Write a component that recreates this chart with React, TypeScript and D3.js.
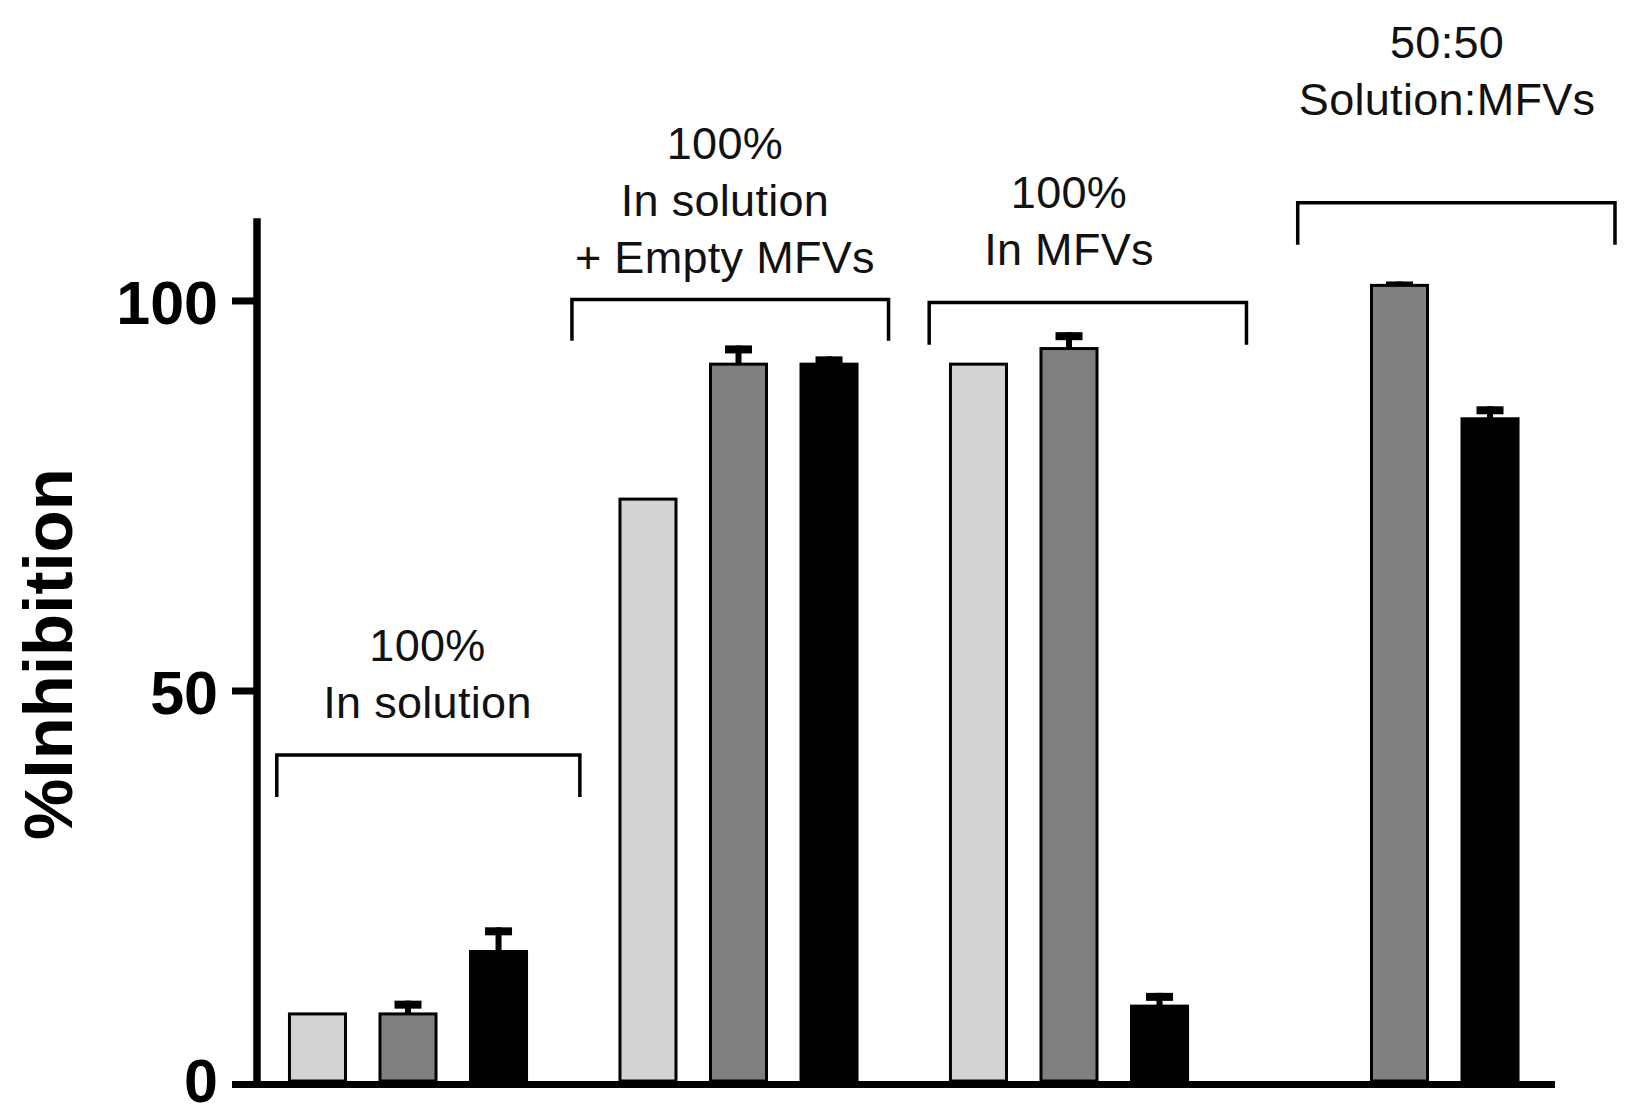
import React from 'react';
import * as d3 from 'd3';

// groups along the x axis
const groups = ['solution', 'solutionEmpty', 'mfvs', 'mixed'];
const series = ['light', 'gray', 'black'];

// %Inhibition per series (null = no bar)
const lightValues: (number | null)[] = [8.6, 74.6, 91.9, null];
const grayValues: (number | null)[] = [8.6, 91.9, 93.9, 102.0];
const blackValues: (number | null)[] = [16.6, 91.9, 9.6, 84.9];

// upper error (SEM) per series
const lightErrors = [0, 0, 0, 0];
const grayErrors = [1.7, 2.4, 2.1, 0.5];
const blackErrors = [3.1, 1.0, 1.7, 1.6];

const yTicks = [0, 50, 100];

// bracket annotations: extents in group units, heights in %Inhibition units
const bracketStart = [0.103, 0.996, 2.077, 3.192];
const bracketEnd = [1.02, 1.954, 3.037, 4.152];
const bracketTop = [41.8, 100.2, 99.8, 112.6];
const bracketFoot = [36.4, 94.9, 94.4, 107.2];

// label text per group, centre in group units, last baseline in %Inhibition units
const labelLines = [
    ['100%', 'In solution'],
    ['100%', 'In solution', '+ Empty MFVs'],
    ['100%', 'In MFVs'],
    ['50:50', 'Solution:MFVs'],
];
const labelCenter = [0.559, 1.459, 2.5, 3.644];
const labelBase = [46.5, 103.6, 104.6, 123.9];

const W = 1632;
const H = 1115;
const FONT = '"Liberation Sans", Arial, Helvetica, sans-serif';

const fills: Record<string, string> = {
    light: '#d3d3d3',
    gray: '#808080',
    black: '#000000',
};

const App: React.FC = () => {
    const x0 = 242.75;
    const x1 = 1564.75;
    const axisX = 257;

    const y = d3.scaleLinear().domain([0, 110.6]).range([1081, 218.3]);

    const xGroup = d3.scaleBand<string>().domain(groups).range([x0, x1]).padding(0);
    const xSeries = d3
        .scaleBand<string>()
        .domain(series)
        .range([0, xGroup.bandwidth()])
        .paddingInner(0.381)
        .paddingOuter(0.516);
    const gx = d3.scaleLinear().domain([0, groups.length]).range([x0, x1]);

    const valuesBySeries: Record<string, (number | null)[]> = {
        light: lightValues,
        gray: grayValues,
        black: blackValues,
    };
    const errorsBySeries: Record<string, number[]> = {
        light: lightErrors,
        gray: grayErrors,
        black: blackErrors,
    };

    const bars = groups.flatMap((g, gi) =>
        series.map((s) => ({
            g,
            s,
            value: valuesBySeries[s][gi],
            err: errorsBySeries[s][gi],
        })),
    );

    const bw = xSeries.bandwidth();
    const lineGap = 57;

    return (
        <div style={{ position: 'absolute', left: 0, top: 0 }}>
            <svg width={W} height={H} viewBox={`0 0 ${W} ${H}`} style={{ display: 'block', background: '#fff' }}>
                {/* error bars (behind bars) */}
                {bars
                    .filter((d) => d.value !== null && d.err > 0)
                    .map((d, i) => {
                        const cx = (xGroup(d.g) ?? 0) + (xSeries(d.s) ?? 0) + bw / 2;
                        const top = y((d.value as number) + d.err);
                        return (
                            <g key={`e${i}`}>
                                <rect x={cx - 3} y={top} width={6} height={y(d.value as number) - top + 2} fill="#000" />
                                <rect x={cx - 13.5} y={top} width={27} height={8} fill="#000" />
                            </g>
                        );
                    })}

                {/* bars */}
                {bars
                    .filter((d) => d.value !== null)
                    .map((d, i) => (
                        <rect
                            key={`b${i}`}
                            x={(xGroup(d.g) ?? 0) + (xSeries(d.s) ?? 0)}
                            y={y(d.value as number)}
                            width={bw}
                            height={y(0) - y(d.value as number)}
                            fill={fills[d.s]}
                            stroke="#000"
                            strokeWidth={3}
                        />
                    ))}

                {/* y axis */}
                <line x1={axisX} x2={axisX} y1={y.range()[1]} y2={y(0) + 7} stroke="#000" strokeWidth={7.5} />
                {yTicks.map((t) => (
                    <g key={t}>
                        <line x1={232} x2={axisX} y1={y(t) + (t === 0 ? 3.5 : 0)} y2={y(t) + (t === 0 ? 3.5 : 0)} stroke="#000" strokeWidth={7} />
                        <text
                            x={218}
                            y={y(t)}
                            dy={t === 0 ? '0.34em' : '0.38em'}
                            textAnchor="end"
                            fontFamily={FONT}
                            fontWeight="bold"
                            fontSize={61}
                            fill="#000"
                        >
                            {t}
                        </text>
                    </g>
                ))}

                {/* x axis */}
                <line x1={232} x2={1555} y1={y(0) + 3.5} y2={y(0) + 3.5} stroke="#000" strokeWidth={7} />

                {/* y axis title */}
                <text
                    transform="translate(72,654) rotate(-90)"
                    textAnchor="middle"
                    fontFamily={FONT}
                    fontWeight="bold"
                    fontSize={69}
                    fill="#000"
                >
                    %Inhibition
                </text>

                {/* brackets */}
                {groups.map((g, i) => (
                    <path
                        key={`br${g}`}
                        d={`M${gx(bracketStart[i])},${y(bracketFoot[i])}V${y(bracketTop[i])}H${gx(bracketEnd[i])}V${y(bracketFoot[i])}`}
                        fill="none"
                        stroke="#000"
                        strokeWidth={3.5}
                    />
                ))}

                {/* group labels */}
                {groups.map((g, i) => {
                    const n = labelLines[i].length;
                    return (
                        <text
                            key={`lb${g}`}
                            textAnchor="middle"
                            fontFamily={FONT}
                            fontSize={45}
                            letterSpacing={0.3}
                            fill="#111"
                        >
                            {labelLines[i].map((line, li) => (
                                <tspan key={li} x={gx(labelCenter[i])} y={y(labelBase[i]) - (n - 1 - li) * lineGap}>
                                    {line}
                                </tspan>
                            ))}
                        </text>
                    );
                })}
            </svg>
        </div>
    );
};

export default App;
